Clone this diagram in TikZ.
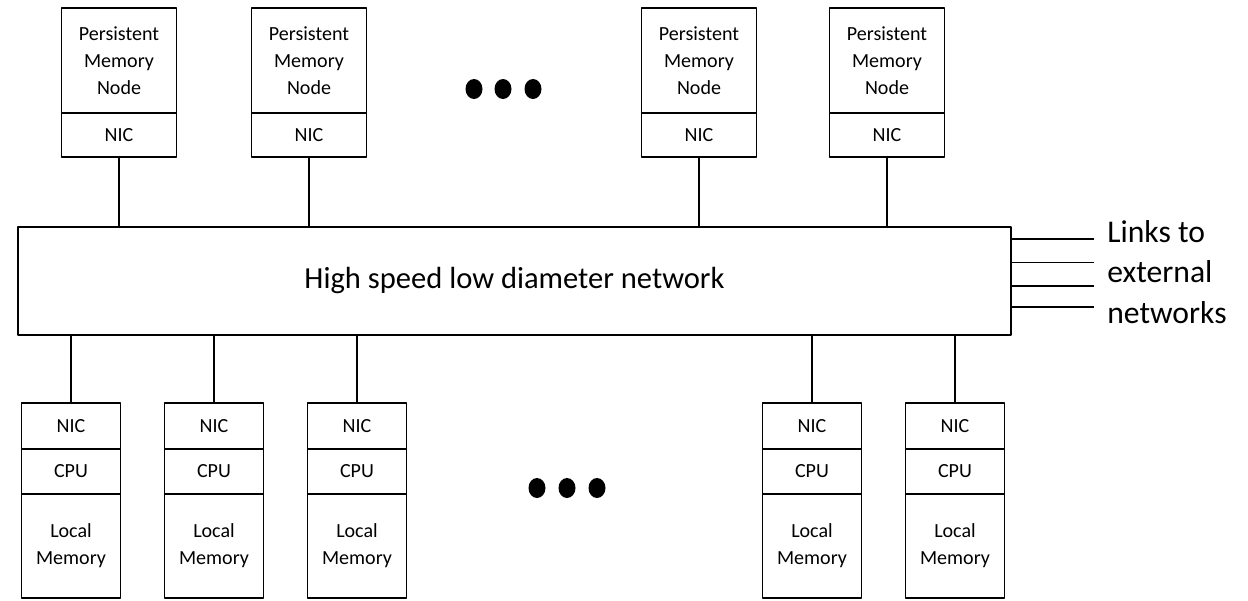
\documentclass[tikz,border=0pt]{standalone}
\usepackage{fontspec}
\setmainfont{Carlito}
\usetikzlibrary{positioning}

\begin{document}
\begin{tikzpicture}[
    x=0.02cm,
    y=-0.02cm,
    line join=round,
    unit/.style={draw, line width=1.1pt, inner sep=0pt, outer sep=0pt,
        align=center, font=\fontsize{11.4}{15.3}\selectfont},
    pmbox/.style={unit, minimum width=2.3cm, minimum height=2.1cm},
    pnicbox/.style={unit, minimum width=2.3cm, minimum height=0.88cm},
    cnicbox/.style={unit, minimum width=1.98cm, minimum height=0.92cm},
    cpubox/.style={unit, minimum width=1.98cm, minimum height=0.9cm},
    lmbox/.style={unit, minimum width=1.98cm, minimum height=2.08cm},
    wire/.style={line width=1.1pt}
]
    \useasboundingbox (0,0) rectangle (1248,600);

    % network
    \node[draw, line width=1.1pt, outer sep=0pt, minimum width=19.86cm,
        minimum height=2.16cm, font=\fontsize{17.4}{21}\selectfont]
        (net) at (514.5,281) {High speed low diameter network};

    % persistent memory nodes
    \foreach \xx/\nn in {119/1, 309/2, 699/3, 887/4} {
        \node[pmbox] (pm\nn) at (\xx,60.5) {Persistent\\Memory\\Node};
        \node[pnicbox, below=0pt of pm\nn] (pnic\nn) {NIC};
        \draw[wire] (pnic\nn.south) -- (pnic\nn.south |- net.north);
    }

    % compute nodes
    \foreach \xx/\nn in {71/1, 214/2, 357/3, 812/4, 955/5} {
        \node[cnicbox] (cnic\nn) at (\xx,426) {NIC};
        \node[cpubox, below=0pt of cnic\nn] (cpu\nn) {CPU};
        \node[lmbox, below=0pt of cpu\nn] (lm\nn) {Local\\Memory};
        \draw[wire] (cnic\nn.north |- net.south) -- (cnic\nn.north);
    }

    % dots
    \foreach \xx in {474,503,533}
        \fill (\xx,89) ellipse [x radius=0.17cm, y radius=0.2cm];
    \foreach \xx in {537,567,597}
        \fill (\xx,488) ellipse [x radius=0.17cm, y radius=0.2cm];

    % external links
    \coordinate (extend) at (1094,272);
    \foreach \yy/\ww in {239/1.1pt, 262/0.5pt, 286/1.1pt, 307/1.1pt}
        \draw[line width=\ww] (net.east |- 0,\yy) -- (extend |- 0,\yy);
    \node[anchor=west, align=left, inner sep=0pt,
        font=\fontsize{18}{23.2}\selectfont] (extlbl) at (1107,272)
        {Links to\\external\\networks};

\end{tikzpicture}
\end{document}
